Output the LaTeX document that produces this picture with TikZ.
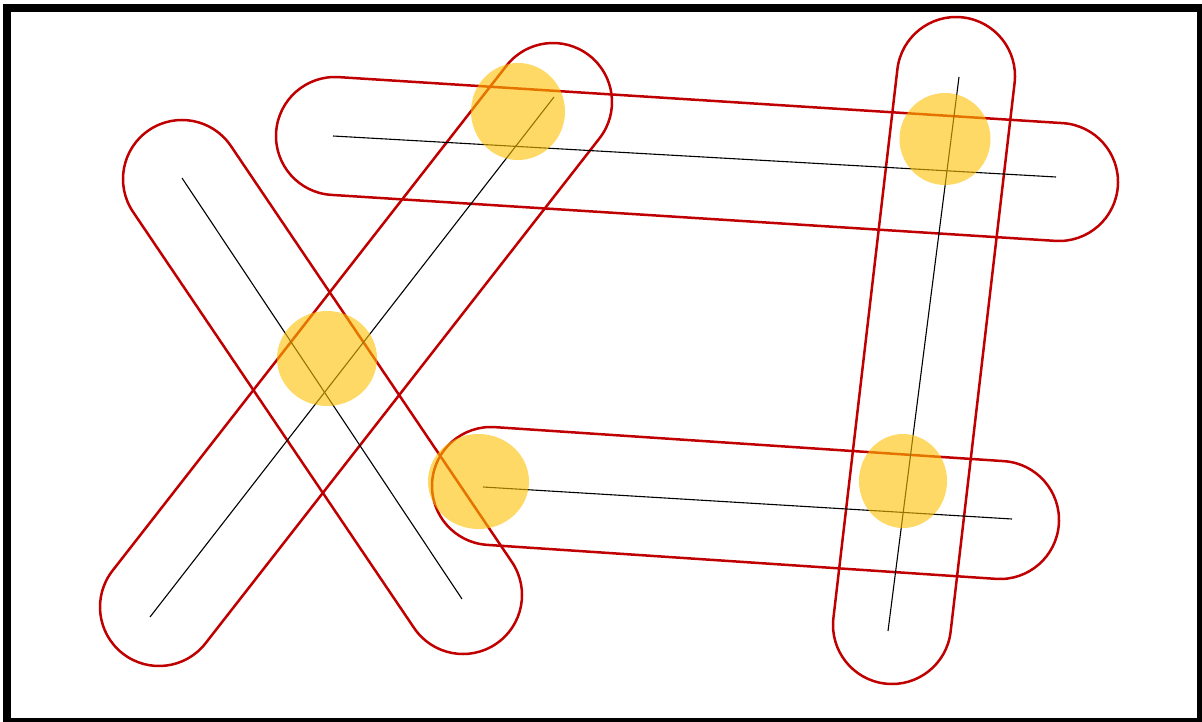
\documentclass[tikz,border=0pt]{standalone}
\usetikzlibrary{calc,shapes.geometric}
\definecolor{capred}{RGB}{192,0,0}
\definecolor{gold}{RGB}{255,192,0}
\tikzset{
  capsule/.style={draw=capred, line width=2.5pt, line join=round},
  axis/.style={draw=black, line width=1.1pt},
  blob/.style={ellipse, fill=gold, fill opacity=0.6, draw=none, inner sep=0pt},
  frame/.style={draw=black, line width=8pt}
}
\newcommand{\capsuleshape}[2]{%
  \draw[capsule] let \p1=(#1), \p2=(#2), \n1={atan2(\y2-\y1,\x2-\x1)} in
    ($(#1)+(\n1+90:59pt)$) -- ($(#2)+(\n1+90:59pt)$)
    arc[start angle=\n1+90, delta angle=-180, radius=59pt]
    -- ($(#1)+(\n1-90:59pt)$)
    arc[start angle=\n1-90, delta angle=-180, radius=59pt] -- cycle;}
\begin{document}
\begin{tikzpicture}[x=1pt,y=1pt]
\useasboundingbox (0,0) rectangle (1202,-722);
\clip (0,0) rectangle (1202,-722);
% capsule end centres
\coordinate (c1a) at (182,-179); \coordinate (c1b) at (463,-595);
\coordinate (c2a) at (159,-607); \coordinate (c2b) at (553,-102);
\coordinate (c3a) at (335,-136); \coordinate (c3b) at (1059,-182);
\coordinate (c4a) at (956,-76);  \coordinate (c4b) at (892,-625);
\coordinate (c5a) at (491,-486); \coordinate (c5b) at (1000,-520);
% line end points
\coordinate (l1a) at (182,-178); \coordinate (l1b) at (462,-599);
\coordinate (l2a) at (150,-617); \coordinate (l2b) at (554,-97);
\coordinate (l3a) at (333,-136); \coordinate (l3b) at (1056,-177);
\coordinate (l4a) at (959,-77);  \coordinate (l4b) at (888,-631);
\coordinate (l5a) at (483,-487); \coordinate (l5b) at (1012,-519);
% frame
\draw[frame] (7,-8) rectangle (1201,-722);
% capsules
\capsuleshape{c1a}{c1b}
\capsuleshape{c2a}{c2b}
\capsuleshape{c3a}{c3b}
\capsuleshape{c4a}{c4b}
\capsuleshape{c5a}{c5b}
% axes
\draw[axis] (l1a) -- (l1b);
\draw[axis] (l2a) -- (l2b);
\draw[axis] (l3a) -- (l3b);
\draw[axis] (l4a) -- (l4b);
\draw[axis] (l5a) -- (l5b);
% blobs
\node[blob, minimum width=94pt, minimum height=97pt] (b1) at (518,-111.5) {};
\node[blob, minimum width=100pt, minimum height=95pt] (b2) at (327,-358.5) {};
\node[blob, minimum width=101pt, minimum height=95pt] (b3) at (478.5,-481.5) {};
\node[blob, minimum width=91pt, minimum height=92pt] (b4) at (945,-139) {};
\node[blob, minimum width=88pt, minimum height=94pt] (b5) at (903,-481) {};
\end{tikzpicture}
\end{document}
